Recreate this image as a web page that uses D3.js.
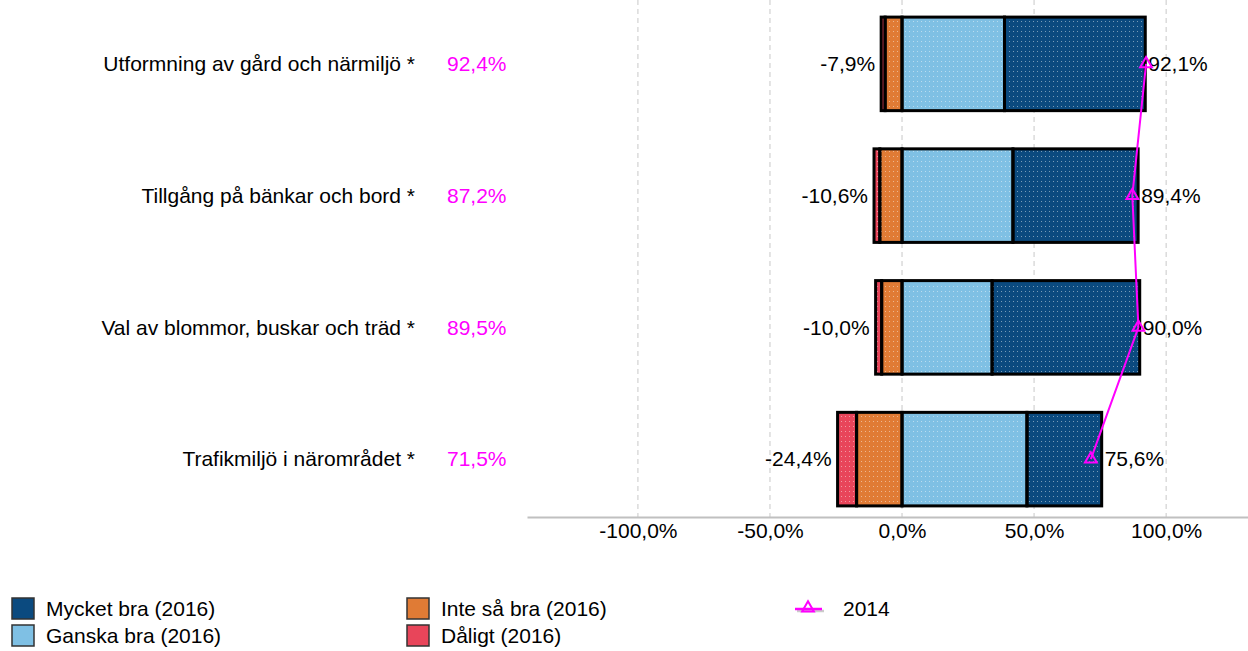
<!DOCTYPE html>
<html lang="sv">
<head>
<meta charset="UTF-8">
<title>Diagram</title>
<script src="https://d3js.org/d3.v7.min.js"></script>
<style>
  body { margin: 0; background: #fff; }
  svg { display: block; font-family: "Liberation Sans", Arial, sans-serif; }
</style>
</head>
<body>
<svg id="chart" width="1248" height="651"></svg>
<script>
// data
const categories = [
  "Utformning av gård och närmiljö *",
  "Tillgång på bänkar och bord *",
  "Val av blommor, buskar och träd *",
  "Trafikmiljö i närområdet *"
];
const mycketBra = [53.3, 47.4, 55.9, 28.3];
const ganskaBra = [38.8, 42.0, 34.1, 47.3];
const inteSaBra = [6.4, 8.4, 7.7, 17.2];
const daligt = [1.5, 2.2, 2.3, 7.2];
const values2014 = [92.4, 87.2, 89.5, 71.5];
const tickValues = [-100, -50, 0, 50, 100];

const colors = {
  mycket: "#0b4a7f",
  ganska: "#7fc0e4",
  inte: "#e07b35",
  daligt: "#e8455a",
  y2014: "#ff00ff"
};
const fs = 21;

const svg = d3.select("#chart");
const sv = d3.formatLocale({ decimal: ",", thousands: " ", grouping: [3], currency: ["", " kr"], minus: "-" });
const pct = v => sv.format(".1f")(v) + "%";

const x = d3.scaleLinear().domain([-142, 131]).range([527, 1248]);
const y = d3.scaleBand().domain(categories).range([-2, 525])
  .paddingInner(0.29).paddingOuter(0.145);
const axisY = 517;
const mid = c => y(c) + y.bandwidth() / 2;

// dot texture
const defs = svg.append("defs");
const pat = defs.append("pattern").attr("id", "dots")
  .attr("patternUnits", "userSpaceOnUse").attr("width", 4).attr("height", 5);
pat.append("rect").attr("x", 1).attr("y", 1).attr("width", 1).attr("height", 1)
  .attr("fill", "#fff").attr("opacity", 0.45);

// gridlines
svg.append("g").selectAll("line").data(tickValues).join("line")
  .attr("x1", d => x(d)).attr("x2", d => x(d))
  .attr("y1", 0).attr("y2", axisY)
  .attr("stroke", "#c8c8c8").attr("stroke-width", 1)
  .attr("stroke-dasharray", "5,4");

// stacked segments
const segs = [];
categories.forEach((c, i) => {
  segs.push({ c, key: "daligt", x0: -(daligt[i] + inteSaBra[i]), x1: -inteSaBra[i] });
  segs.push({ c, key: "inte", x0: -inteSaBra[i], x1: 0 });
  segs.push({ c, key: "ganska", x0: 0, x1: ganskaBra[i] });
  segs.push({ c, key: "mycket", x0: ganskaBra[i], x1: ganskaBra[i] + mycketBra[i] });
});

const bars = svg.append("g");
bars.selectAll("rect.fill").data(segs).join("rect")
  .attr("class", "fill")
  .attr("x", d => x(d.x0)).attr("width", d => x(d.x1) - x(d.x0))
  .attr("y", d => y(d.c)).attr("height", y.bandwidth())
  .attr("fill", d => colors[d.key]);
bars.selectAll("rect.tex").data(segs).join("rect")
  .attr("class", "tex")
  .attr("x", d => x(d.x0)).attr("width", d => x(d.x1) - x(d.x0))
  .attr("y", d => y(d.c)).attr("height", y.bandwidth())
  .attr("fill", "url(#dots)")
  .attr("stroke", "#000").attr("stroke-width", 3);

// axis
const xAxis = d3.axisBottom(x).tickValues(tickValues).tickSize(0).tickPadding(6)
  .tickFormat(pct);
const ax = svg.append("g").attr("transform", `translate(0,${axisY})`).call(xAxis);
ax.select(".domain").attr("stroke", "#c0c0c0").attr("stroke-width", 2);
ax.selectAll("text").attr("font-size", fs).attr("fill", "#000")
  .attr("font-family", "Liberation Sans, Arial, sans-serif");

// total labels
svg.append("g").selectAll("text").data(categories).join("text")
  .attr("x", (c, i) => x(-(daligt[i] + inteSaBra[i])) - 6)
  .attr("y", mid)
  .attr("dy", "0.35em").attr("text-anchor", "end")
  .attr("font-size", fs).attr("fill", "#000")
  .text((c, i) => "-" + sv.format(".1f")(daligt[i] + inteSaBra[i]) + "%");
svg.append("g").selectAll("text").data(categories).join("text")
  .attr("x", (c, i) => x(ganskaBra[i] + mycketBra[i]) + 3)
  .attr("y", mid)
  .attr("dy", "0.35em")
  .attr("font-size", fs).attr("fill", "#000")
  .text((c, i) => pct(ganskaBra[i] + mycketBra[i]));

// category labels and 2014 values
svg.append("g").selectAll("text").data(categories).join("text")
  .attr("x", 415).attr("y", mid)
  .attr("dy", "0.35em").attr("text-anchor", "end")
  .attr("font-size", fs).attr("fill", "#000")
  .text(c => c);
svg.append("g").selectAll("text").data(categories).join("text")
  .attr("x", 447).attr("y", mid)
  .attr("dy", "0.35em")
  .attr("font-size", fs).attr("fill", colors.y2014)
  .text((c, i) => pct(values2014[i]));

// 2014 line
const line = d3.line().x(d => x(d[0])).y(d => mid(d[1]));
const pts = categories.map((c, i) => [values2014[i], c]);
svg.append("path").datum(pts).attr("d", line)
  .attr("fill", "none").attr("stroke", colors.y2014).attr("stroke-width", 2);
const tri = d3.symbol().type(d3.symbolTriangle).size(60);
svg.append("g").selectAll("path").data(pts).join("path")
  .attr("transform", d => `translate(${x(d[0])},${mid(d[1])})`)
  .attr("d", tri)
  .attr("fill", "none").attr("stroke", colors.y2014).attr("stroke-width", 2);

// legend
const legendItems = [
  { label: "Mycket bra (2016)", key: "mycket", lx: 12, ly: 598 },
  { label: "Ganska bra (2016)", key: "ganska", lx: 12, ly: 625 },
  { label: "Inte så bra (2016)", key: "inte", lx: 407, ly: 598 },
  { label: "Dåligt (2016)", key: "daligt", lx: 407, ly: 625 }
];
const lg = svg.append("g").selectAll("g").data(legendItems).join("g")
  .attr("transform", d => `translate(${d.lx},${d.ly})`);
lg.append("rect").attr("width", 22).attr("height", 21)
  .attr("fill", d => colors[d.key]).attr("stroke", "#333").attr("stroke-width", 1.5);
lg.append("text").attr("x", 34).attr("y", 11).attr("dy", "0.35em")
  .attr("font-size", fs).attr("fill", "#000").text(d => d.label);

const l14 = svg.append("g").attr("transform", "translate(795,608)");
l14.append("line").attr("x1", 2).attr("x2", 29).attr("y1", 3).attr("y2", 3)
  .attr("stroke", "#aaa").attr("stroke-width", 2.5).attr("opacity", 0.6);
l14.append("line").attr("x1", 0).attr("x2", 27).attr("y1", 1).attr("y2", 1)
  .attr("stroke", colors.y2014).attr("stroke-width", 2.5);
l14.append("path").attr("transform", "translate(13,0)").attr("d", tri)
  .attr("fill", "none").attr("stroke", colors.y2014).attr("stroke-width", 2);
l14.append("text").attr("x", 48).attr("y", 1).attr("dy", "0.35em")
  .attr("font-size", fs).attr("fill", "#000").text("2014");
</script>
</body>
</html>
